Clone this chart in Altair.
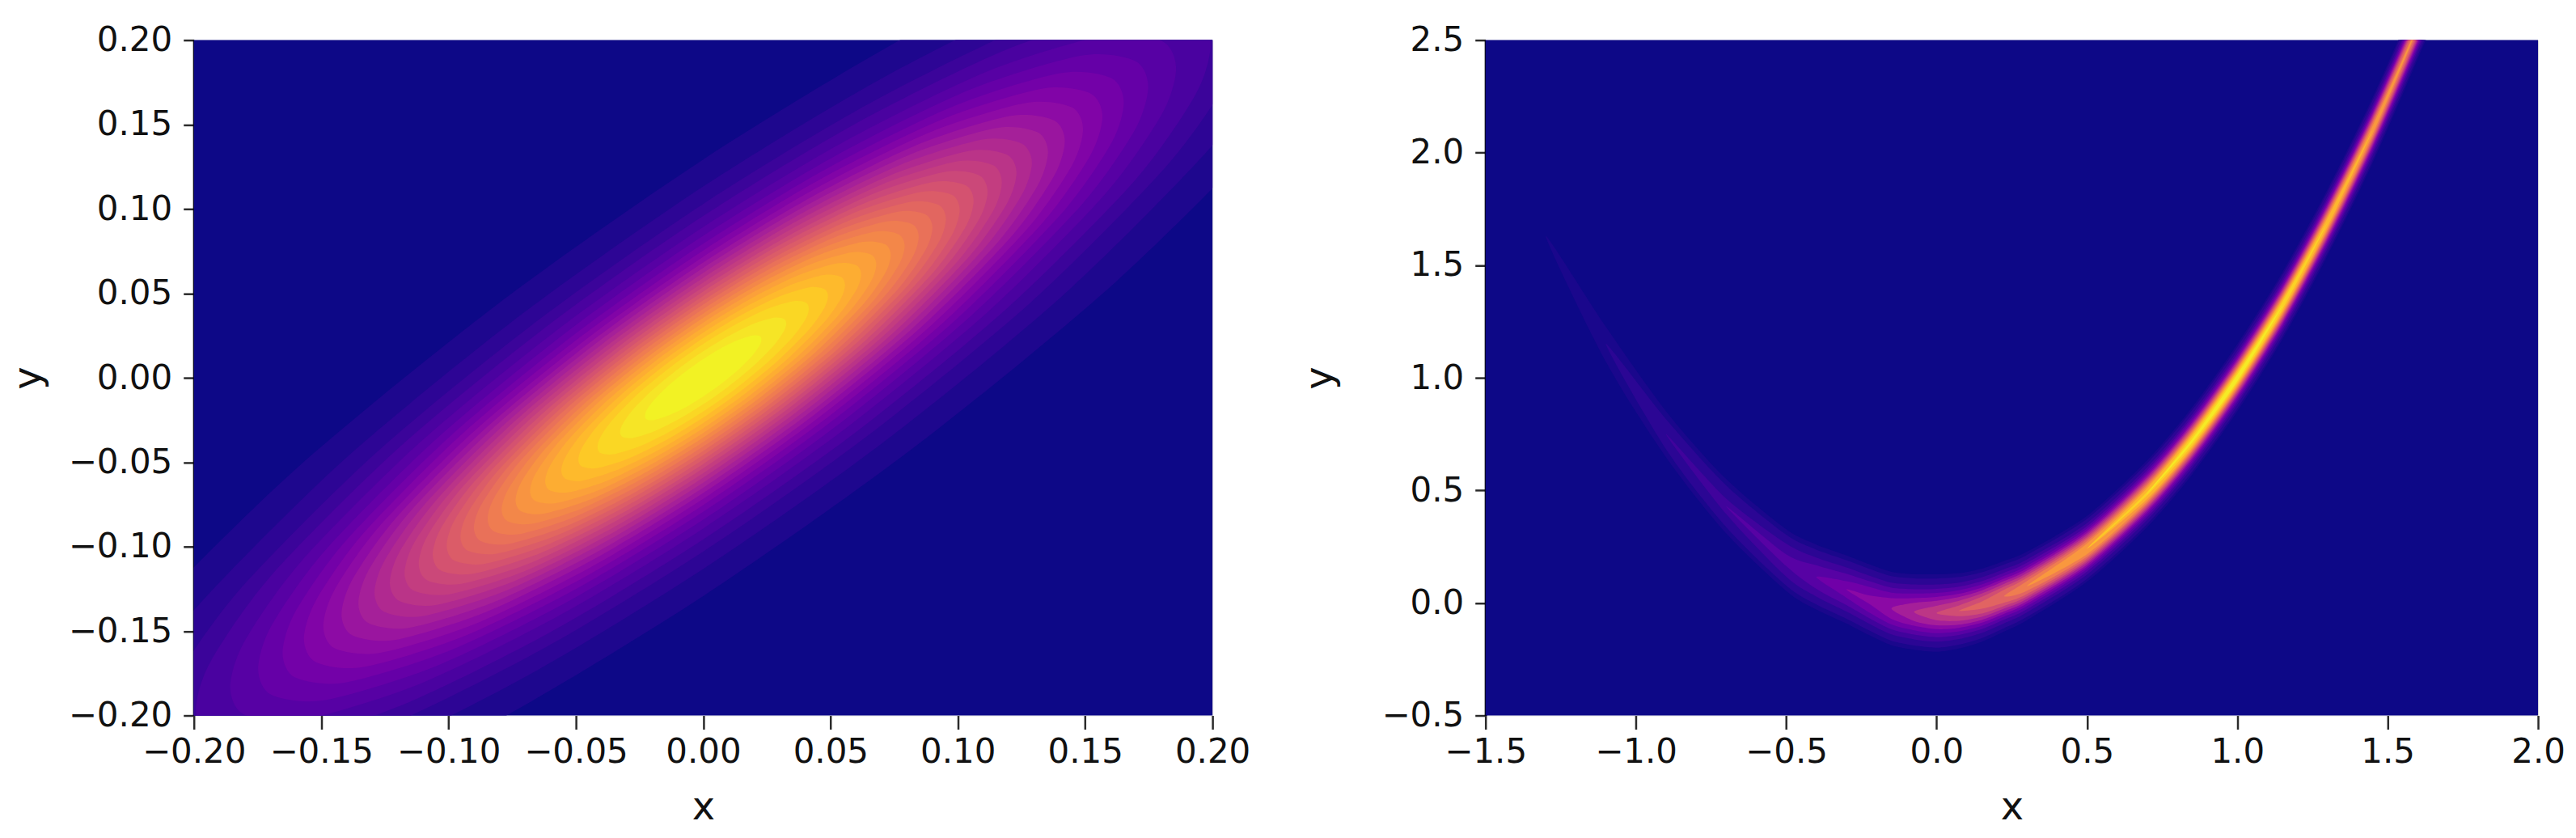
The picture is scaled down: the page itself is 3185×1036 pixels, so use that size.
import altair as alt
import pandas as pd

# LEFT PANEL: density contours. The cloud is point-symmetric
# about (0, 0), so one half of each contour is listed: (x, y lower, y upper).
LEFT_SHADES = [.025, .055, .085, .118, .152, .188, .222, .258, .292, .328, .362, .398, .432, .468, .502,
               .538, .572, .608, .642, .678, .712, .748, .782, .818, .852, .888, .922, .955, .985]
LEFT_X = [
    [0, .0867, .1734, .2457, .2803, .2892],
    [0, .0760, .1519, .2152, .2456, .2532],
    [0, .0690, .1381, .1956, .2232, .2301],
    [0, .0643, .1285, .1821, .2078, .2142],
    [0, .0599, .1198, .1697, .1937, .1997],
    [0, .0564, .1127, .1597, .1823, .1879],
    [0, .0533, .1066, .1510, .1723, .1776],
    [0, .0506, .1012, .1433, .1635, .1686],
    [0, .0481, .0962, .1363, .1556, .1604],
    [0, .0458, .0916, .1298, .1481, .1527],
    [0, .0437, .0874, .1238, .1412, .1456],
    [0, .0416, .0833, .1180, .1346, .1388],
    [0, .0397, .0794, .1125, .1283, .1323],
    [0, .0378, .0757, .1072, .1223, .1261],
    [0, .0360, .0721, .1021, .1165, .1201],
    [0, .0343, .0685, .0971, .1108, .1142],
    [0, .0325, .0650, .0921, .1051, .1083],
    [0, .0308, .0615, .0871, .0994, .1025],
    [0, .0290, .0581, .0823, .0939, .0968],
    [0, .0273, .0546, .0774, .0883, .0910],
    [0, .0255, .0511, .0723, .0825, .0851],
    [0, .0238, .0475, .0673, .0768, .0792],
    [0, .0219, .0439, .0621, .0709, .0731],
    [0, .0200, .0400, .0567, .0647, .0667],
    [0, .0180, .0359, .0509, .0581, .0599],
    [0, .0158, .0316, .0448, .0511, .0527],
    [0, .0134, .0268, .0379, .0433, .0446],
    [0, .0105, .0211, .0298, .0340, .0351],
    [0, .0074, .0148, .0209, .0239, .0246],
]
LEFT_LOW = [
    [-.1390, -.0427, .0686, .1815, .2569, .2999],
    [-.1218, -.0374, .0601, .1590, .2251, .2626],
    [-.1107, -.0340, .0546, .1445, .2046, .2386],
    [-.1030, -.0316, .0509, .1345, .1905, .2221],
    [-.0960, -.0295, .0474, .1254, .1776, .2071],
    [-.0904, -.0277, .0446, .1180, .1670, .1949],
    [-.0854, -.0262, .0422, .1116, .1579, .1842],
    [-.0811, -.0249, .0400, .1059, .1499, .1748],
    [-.0771, -.0237, .0381, .1007, .1427, .1663],
    [-.0734, -.0225, .0363, .0959, .1358, .1584],
    [-.0700, -.0215, .0346, .0915, .1294, .1510],
    [-.0668, -.0206, .0330, .0872, .1234, .1439],
    [-.0636, -.0195, .0314, .0832, .1175, .1372],
    [-.0607, -.0187, .0299, .0792, .1120, .1308],
    [-.0577, -.0177, .0286, .0755, .1068, .1245],
    [-.0549, -.0168, .0271, .0718, .1016, .1184],
    [-.0521, -.0160, .0257, .0680, .0963, .1123],
    [-.0493, -.0151, .0244, .0643, .0911, .1063],
    [-.0466, -.0144, .0229, .0607, .0861, .1004],
    [-.0438, -.0135, .0216, .0572, .0810, .0944],
    [-.0409, -.0126, .0203, .0534, .0757, .0882],
    [-.0381, -.0116, .0188, .0497, .0703, .0821],
    [-.0351, -.0108, .0174, .0459, .0650, .0758],
    [-.0321, -.0099, .0158, .0419, .0593, .0692],
    [-.0288, -.0088, .0142, .0376, .0532, .0621],
    [-.0253, -.0077, .0126, .0332, .0469, .0547],
    [-.0215, -.0066, .0106, .0280, .0397, .0462],
    [-.0169, -.0052, .0084, .0220, .0312, .0364],
    [-.0119, -.0037, .0058, .0154, .0219, .0255],
]
LEFT_HIGH = [
    [.1390, .2225, .2910, .3281, .3245, .2999],
    [.1218, .1950, .2549, .2874, .2843, .2626],
    [.1107, .1772, .2318, .2611, .2584, .2386],
    [.1030, .1650, .2157, .2431, .2405, .2221],
    [.0960, .1537, .2010, .2266, .2242, .2071],
    [.0904, .1447, .1892, .2132, .2110, .1949],
    [.0854, .1368, .1788, .2016, .1995, .1842],
    [.0811, .1299, .1698, .1913, .1893, .1748],
    [.0771, .1235, .1615, .1819, .1801, .1663],
    [.0734, .1175, .1537, .1733, .1714, .1584],
    [.0700, .1121, .1466, .1653, .1634, .1510],
    [.0668, .1068, .1398, .1576, .1558, .1439],
    [.0636, .1019, .1332, .1502, .1485, .1372],
    [.0607, .0971, .1271, .1432, .1416, .1308],
    [.0577, .0923, .1210, .1363, .1348, .1245],
    [.0549, .0880, .1149, .1296, .1282, .1184],
    [.0521, .0834, .1091, .1230, .1217, .1123],
    [.0493, .0789, .1032, .1163, .1151, .1063],
    [.0466, .0746, .0975, .1099, .1087, .1004],
    [.0438, .0701, .0916, .1034, .1022, .0944],
    [.0409, .0654, .0857, .0966, .0955, .0882],
    [.0381, .0610, .0798, .0899, .0889, .0821],
    [.0351, .0562, .0736, .0829, .0820, .0758],
    [.0321, .0513, .0672, .0757, .0749, .0692],
    [.0288, .0462, .0602, .0680, .0672, .0621],
    [.0253, .0405, .0530, .0598, .0591, .0547],
    [.0215, .0344, .0450, .0506, .0501, .0462],
    [.0169, .0270, .0354, .0398, .0394, .0364],
    [.0119, .0191, .0248, .0280, .0277, .0255],
]
LEFT_SLOPE_TRIM = -.05  # the crest reads a little flatter than the listed contours
LEFT_SPREAD = .93       # and the cloud a little tighter

# RIGHT PANEL: crest of the curved ridge and, per level, the vertical half-thickness.
RIGHT_X = [-1.3, -1.1, -.9, -.7, -.5, -.4, -.3, -.225, -.15, -.075, 0, .075, .15, .225, .3, .5, .7, .85, 1, 1.15, 1.3, 1.45, 1.6, 1.7]
RIGHT_CREST = [1.63, 1.15, .75, .43, .19, .115, .06, .015, -.025, -.04, -.045, -.035, -.01, .03, .075, .24, .485, .72, 1.0, 1.32, 1.69, 2.10, 2.56, 2.89]
RIGHT_THICK = [1.138, 1.138, 1.138, 1.138, 1.138, 1.138, 1.138, 1.138, 1.138, 1.138, 1.138, 1.085, 1.037, .988, .949, .896, .896, .896, .896, .896, .896, .896, .896, .896]
RIGHT_SHADES = [.02, .05, .095, .15, .215, .285, .36, .44, .52, .60, .68, .76, .84, .91, .97]
RIGHT_HALF = [
    [0, .0683, .09, .1061, .1205, .127, .1332, .1385, .1434, .1477, .1512, .1542, .1568, .1587, .1605, .1635, .1657, .167, .1676, .1666, .165, .1627, .1595, .1568],
    [0, 0, .0586, .0812, .0993, .1071, .1144, .1205, .1262, .131, .135, .1383, .1411, .1433, .1452, .1486, .151, .1524, .1531, .152, .1502, .1477, .1442, .1411],
    [0, 0, 0, .03, .0645, .0759, .0859, .0939, .1011, .1071, .1119, .1158, .1192, .1218, .124, .128, .1308, .1324, .1332, .1319, .1299, .127, .1228, .1192],
    [0, 0, 0, 0, .0232, .0463, .0613, .0721, .0812, .0885, .0943, .099, .1029, .1058, .1085, .1129, .1161, .1179, .1188, .1173, .1151, .1118, .1071, .1029],
    [0, 0, 0, 0, 0, 0, .0322, .0497, .0622, .0715, .0785, .0841, .0887, .0921, .095, .1001, .1037, .1058, .1067, .1051, .1026, .0988, .0935, .0887],
    [0, 0, 0, 0, 0, 0, 0, .0162, .0407, .0539, .0629, .0697, .0752, .0792, .0826, .0884, .0924, .0947, .0958, .094, .0911, .087, .0808, .0752],
    [0, 0, 0, 0, 0, 0, 0, 0, 0, .0353, .0479, .0566, .0632, .0679, .0718, .0785, .0829, .0855, .0868, .0847, .0815, .0768, .0698, .0632],
    [0, 0, 0, 0, 0, 0, 0, 0, 0, 0, .0281, .0412, .05, .0557, .0605, .0682, .0733, .0763, .0776, .0754, .0717, .0663, .0581, .05],
    [0, 0, 0, 0, 0, 0, 0, 0, 0, 0, 0, .0217, .0357, .0434, .0494, .0586, .0644, .0677, .0693, .0667, .0626, .0564, .0462, .0357],
    [0, 0, 0, 0, 0, 0, 0, 0, 0, 0, 0, 0, .0153, .0291, .0375, .049, .0558, .0596, .0613, .0584, .0537, .0462, .0332, .0153],
    [0, 0, 0, 0, 0, 0, 0, 0, 0, 0, 0, 0, 0, 0, .0225, .0387, .0471, .0515, .0535, .0501, .0445, .0353, .0144, 0],
    [0, 0, 0, 0, 0, 0, 0, 0, 0, 0, 0, 0, 0, 0, 0, .0266, .0377, .0431, .0455, .0415, .0346, .0212, 0, 0],
    [0, 0, 0, 0, 0, 0, 0, 0, 0, 0, 0, 0, 0, 0, 0, 0, .0268, .034, .0369, .0319, .0221, 0, 0, 0],
    [0, 0, 0, 0, 0, 0, 0, 0, 0, 0, 0, 0, 0, 0, 0, 0, .0086, .0227, .0269, .0193, 0, 0, 0, 0],
    [0, 0, 0, 0, 0, 0, 0, 0, 0, 0, 0, 0, 0, 0, 0, 0, 0, .0086, .0168, 0, 0, 0, 0, 0],
]

LEFT_TICKS = [-.20, -.15, -.10, -.05, 0, .05, .10, .15, .20]
RIGHT_X_TICKS = [-1.5, -1, -.5, 0, .5, 1, 1.5, 2]
RIGHT_Y_TICKS = [-.5, 0, .5, 1, 1.5, 2, 2.5]

FONT = "DejaVu Sans"
INK = "#2b2b2b"


def color():
    return alt.Color("shade:Q", scale=alt.Scale(scheme="plasma", domain=[0, 1]), legend=None)


def panel(frames, xdom, ydom, xticks, yticks, fmt, w, h, title_x):
    xax = alt.Axis(values=xticks, format=fmt, title="x", grid=False, tickSize=17, tickWidth=2.5,
                   tickColor=INK, domain=False, labelFont=FONT, labelFontSize=42, labelColor="#111",
                   labelPadding=8, labelOverlap=False, labelFlush=False, titleFont=FONT, titleFontSize=48,
                   titleFontWeight="normal", titleColor="#111", titleY=114, titleBaseline="middle")
    yax = alt.Axis(values=yticks, format=fmt, title="y", grid=False, tickSize=13, tickWidth=2.5,
                   tickColor=INK, domain=True, domainColor="#000", domainWidth=3, labelFont=FONT,
                   labelFontSize=42, labelColor="#111", labelPadding=14, labelOverlap=False,
                   labelFlush=False, titleFont=FONT, titleFontSize=48, titleFontWeight="normal",
                   titleColor="#111", titleX=title_x, titleY=h / 2, titleBaseline="middle", titleAngle=270)
    xs = alt.Scale(domain=xdom, nice=False, zero=False)
    ys = alt.Scale(domain=ydom, nice=False, zero=False)
    base = pd.DataFrame({"x": [xdom[0]], "x2": [xdom[1]], "y": [ydom[0]], "y2": [ydom[1]], "shade": [0.0]})
    layers = [
        alt.Chart(base).mark_rect().encode(
            x=alt.X("x:Q", scale=xs, axis=xax), x2="x2:Q",
            y=alt.Y("y:Q", scale=ys, axis=yax), y2="y2:Q", color=color())
    ]
    for f in frames:
        layers.append(
            alt.Chart(f).mark_line(filled=True, interpolate="cardinal-closed", tension=0.2, clip=True).encode(
                x=alt.X("x:Q", scale=xs, axis=xax),
                y=alt.Y("y:Q", scale=ys, axis=yax), order=alt.Order("i:Q"), color=color())
        )
    return alt.layer(*layers).properties(width=w, height=h)


left_frames = []
for shade, xs_, lo_, hi_ in zip(LEFT_SHADES, LEFT_X, LEFT_LOW, LEFT_HIGH):
    # once round the contour: +x tip, upper side back to x=0, its mirror out to the -x tip,
    # the mirrored upper side back to x=0, and the lower side out again
    px = list(reversed(xs_)) + [-v for v in xs_[1:]] + [-v for v in reversed(xs_[1:-1])] + [0] + xs_[1:-1]
    py = list(reversed(hi_)) + [-v for v in lo_[1:]] + [-v for v in reversed(hi_[1:-1])] + [lo_[0]] + lo_[1:-1]
    py = [(b + LEFT_SLOPE_TRIM * a) * LEFT_SPREAD for a, b in zip(px, py)]
    px = [a * LEFT_SPREAD for a in px]
    left_frames.append(pd.DataFrame({"x": px, "y": py, "shade": shade, "i": range(len(px))}))

right_frames = []
for shade, half in zip(RIGHT_SHADES, RIGHT_HALF):
    keep = [i for i in range(len(half)) if half[i] > 0]
    first, last = keep[0] - 1, keep[-1] + 1
    px, py = [], []
    if first >= 0:
        px.append(RIGHT_X[first]); py.append(RIGHT_CREST[first])
    for i in keep:
        px.append(RIGHT_X[i]); py.append(RIGHT_CREST[i] + half[i] * RIGHT_THICK[i])
    if last < len(half):
        px.append(RIGHT_X[last]); py.append(RIGHT_CREST[last])
    for i in reversed(keep):
        px.append(RIGHT_X[i]); py.append(RIGHT_CREST[i] - half[i] * RIGHT_THICK[i])
    right_frames.append(pd.DataFrame({"x": px, "y": py, "shade": shade, "i": range(len(px))}))

left = panel(left_frames, [-.2, .2], [-.2, .2], LEFT_TICKS, LEFT_TICKS, ".2f", 1261, 836, -204)
right = panel(right_frames, [-1.5, 2], [-.5, 2.5], RIGHT_X_TICKS, RIGHT_Y_TICKS, ".1f", 1303, 836, -204)

chart = (
    alt.hconcat(left, right, spacing=338, bounds="flush")
    .resolve_scale(color="independent")
    .configure_view(stroke=INK, strokeWidth=3)
    .configure(background="white")
    .properties(padding={"left": 3, "top": 19, "right": 5, "bottom": 5})
)
chart.save("out.html", embed_options={"renderer": "svg", "actions": False})
